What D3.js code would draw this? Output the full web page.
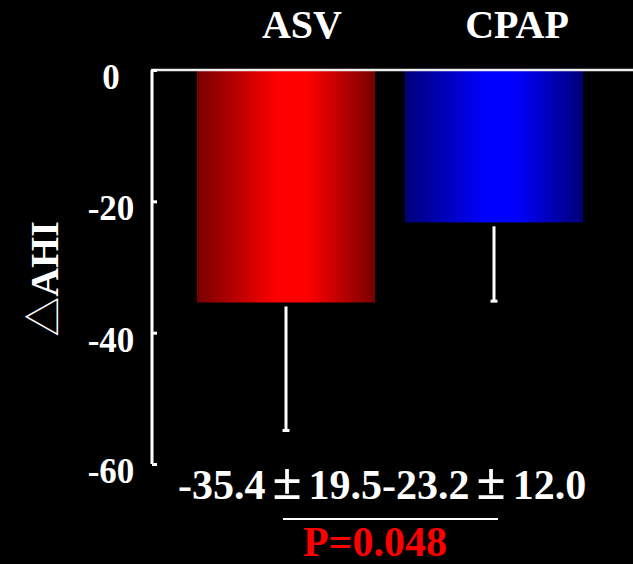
<!DOCTYPE html>
<html>
<head>
<meta charset="utf-8">
<script src="https://cdn.jsdelivr.net/npm/d3@7"></script>
<style>
  html, body { margin: 0; padding: 0; background: #000; }
  svg { display: block; }
  text { font-family: "Liberation Serif", "Times New Roman", serif; font-weight: bold; }
</style>
</head>
<body>
<div id="chart"></div>
<script>
// values
var groups = ["ASV", "CPAP"];
var means = [-35.4, -23.2];
var sds = [19.5, 12.0];
var yTicks = [0, -20, -40, -60];
var summaryParts = ["-35.4", "\u00b1", "19.5-23.2", "\u00b1", "12.0"];
var pText = "P=0.048";
var barColors = [["#780000", "#ff0000"], ["#000078", "#0000ff"]];

var width = 633, height = 564;

var svg = d3.select("#chart").append("svg")
    .attr("width", width)
    .attr("height", height)
    .style("background", "#000");

var x = d3.scaleBand()
    .domain(groups)
    .range([182, 598])
    .paddingInner(0.144)
    .paddingOuter(0.072);

var y = d3.scaleLinear()
    .domain([0, -60])
    .range([70, 464]);

// gradients for the bars
var defs = svg.append("defs");
groups.forEach(function(g, i) {
    var grad = defs.append("linearGradient")
        .attr("id", "grad" + i)
        .attr("x1", "0%").attr("x2", "100%")
        .attr("y1", "0%").attr("y2", "0%");
    grad.append("stop").attr("offset", "0%").attr("stop-color", barColors[i][0]);
    grad.append("stop").attr("offset", "45%").attr("stop-color", barColors[i][1]);
    grad.append("stop").attr("offset", "62%").attr("stop-color", barColors[i][1]);
    grad.append("stop").attr("offset", "100%").attr("stop-color", barColors[i][0]);
});

// bars
svg.selectAll(".bar")
    .data(groups)
    .enter()
    .append("rect")
    .attr("class", "bar")
    .attr("x", function(d) { return x(d); })
    .attr("y", y(0))
    .attr("width", x.bandwidth())
    .attr("height", function(d, i) { return y(means[i]) - y(0); })
    .attr("fill", function(d, i) { return "url(#grad" + i + ")"; });

// error bars (downward only)
var err = svg.selectAll(".err")
    .data(groups)
    .enter()
    .append("g")
    .attr("class", "err");
err.append("line")
    .attr("x1", function(d) { return x(d) + x.bandwidth() / 2; })
    .attr("x2", function(d) { return x(d) + x.bandwidth() / 2; })
    .attr("y1", function(d, i) { return y(means[i]) + 4; })
    .attr("y2", function(d, i) { return y(means[i] - sds[i]); })
    .attr("stroke", "#fff")
    .attr("stroke-width", 3);
err.append("line")
    .attr("x1", function(d) { return x(d) + x.bandwidth() / 2 - 3.5; })
    .attr("x2", function(d) { return x(d) + x.bandwidth() / 2 + 3.5; })
    .attr("y1", function(d, i) { return y(means[i] - sds[i]); })
    .attr("y2", function(d, i) { return y(means[i] - sds[i]); })
    .attr("stroke", "#fff")
    .attr("stroke-width", 3);

// zero line across the top
svg.append("line")
    .attr("x1", 151).attr("x2", width)
    .attr("y1", y(0)).attr("y2", y(0))
    .attr("stroke", "#eee")
    .attr("stroke-width", 2.5);

// y axis
var yAxis = svg.append("g")
    .attr("transform", "translate(152,0)")
    .call(d3.axisRight(y).tickValues(yTicks).tickSize(5).tickFormat(""));
yAxis.select(".domain").attr("stroke", "#fff").attr("stroke-width", 3)
    .attr("d", "M0," + y(0) + "V" + y(-60));
yAxis.selectAll(".tick line").attr("stroke", "#fff").attr("stroke-width", 3);

svg.selectAll(".ylab")
    .data(yTicks)
    .enter()
    .append("text")
    .attr("class", "ylab")
    .attr("x", 111)
    .attr("y", function(d) { return y(d) + 19; })
    .attr("text-anchor", "middle")
    .attr("fill", "#fff")
    .style("font-size", "35px")
    .text(function(d) { return d; });

// axis title
var title = svg.append("text")
    .attr("transform", "translate(58,279) rotate(-90)")
    .attr("text-anchor", "middle")
    .attr("fill", "#fff")
    .style("font-size", "40px");
title.append("tspan")
    .style("font-family", "'Noto Sans CJK JP', sans-serif")
    .style("font-weight", "normal")
    .text("\u25b3");
title.append("tspan").text("AHI");

// group labels on top
svg.selectAll(".glab")
    .data(groups)
    .enter()
    .append("text")
    .attr("class", "glab")
    .attr("x", function(d, i) { return x(d) + x.bandwidth() / 2 + (i === 0 ? 16 : 23); })
    .attr("y", 38)
    .attr("text-anchor", "middle")
    .attr("fill", "#fff")
    .style("font-size", "40px")
    .text(function(d) { return d; });

// summary numbers
var summary = svg.append("text")
    .attr("x", 178)
    .attr("y", 499)
    .attr("fill", "#fff")
    .style("font-size", "42px");
summary.selectAll("tspan")
    .data(summaryParts)
    .enter()
    .append("tspan")
    .attr("dx", function(d, i) { return i === 0 ? 0 : 7; })
    .style("font-size", function(d) { return d === "\u00b1" ? "53px" : null; })
    .text(function(d) { return d; });

svg.append("line")
    .attr("x1", 283).attr("x2", 498)
    .attr("y1", 519).attr("y2", 519)
    .attr("stroke", "#fff")
    .attr("stroke-width", 2);

svg.append("text")
    .attr("x", 375)
    .attr("y", 556)
    .attr("text-anchor", "middle")
    .attr("fill", "#ff0000")
    .style("font-size", "42px")
    .text(pText);
</script>
</body>
</html>
